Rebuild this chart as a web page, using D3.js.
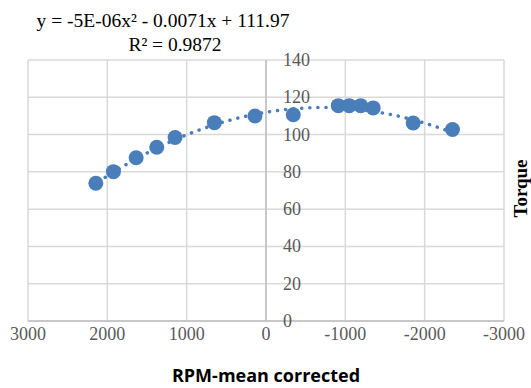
<!DOCTYPE html>
<html>
<head>
<meta charset="utf-8">
<script src="https://cdn.jsdelivr.net/npm/d3@7"></script>
<style>
  body { margin: 0; background: #fff; }
  svg { display: block; }
</style>
</head>
<body>
<div id="chart"></div>
<script>
let width = 531,
    height = 388,
    margin = ({ top: 60, right: 27, bottom: 67, left: 28 });

// data
const rpmCorrected = [2145, 1923, 1637, 1377, 1146, 651, 139, -344, -911, -1049, -1193, -1351, -1855, -2351];
const torque = [73.9, 80.1, 87.6, 93.2, 98.4, 106.4, 110.0, 110.6, 115.5, 115.5, 115.5, 114.3, 106.2, 102.7];
const xTicks = [3000, 2000, 1000, 0, -1000, -2000, -3000];
const yTicks = [0, 20, 40, 60, 80, 100, 120, 140];
const trendCoef = [-5e-6, -0.0071, 111.97]; // a, b, c
const eqLines = ["y = -5E-06x\u00b2 - 0.0071x + 111.97", "R\u00b2 = 0.9872"];

const points = rpmCorrected.map((d, i) => ({ x: d, y: torque[i] }));

const svg = d3.select("#chart")
    .append("svg")
    .attr("width", width)
    .attr("height", height);

let x = d3.scaleLinear()
    .domain([3000, -3000]) // reversed axis
    .range([margin.left, width - margin.right]);

let y = d3.scaleLinear()
    .domain([0, 140])
    .range([height - margin.bottom, margin.top]);

// vertical gridlines
svg.append("g")
    .selectAll("line")
    .data(xTicks)
    .join("line")
    .attr("x1", d => x(d)).attr("x2", d => x(d))
    .attr("y1", y(0)).attr("y2", y(140))
    .attr("stroke", "#d9d9d9")
    .attr("stroke-width", 1.5);

// horizontal gridlines
svg.append("g")
    .selectAll("line")
    .data(yTicks)
    .join("line")
    .attr("x1", x(3000)).attr("x2", x(-3000))
    .attr("y1", d => y(d)).attr("y2", d => y(d))
    .attr("stroke", "#d9d9d9")
    .attr("stroke-width", 1.5);

// axis lines
svg.append("line")
    .attr("x1", x(3000)).attr("x2", x(-3000))
    .attr("y1", y(0)).attr("y2", y(0))
    .attr("stroke", "#bfbfbf").attr("stroke-width", 1.5);

svg.append("line")
    .attr("x1", x(0)).attr("x2", x(0))
    .attr("y1", y(0)).attr("y2", y(140))
    .attr("stroke", "#bfbfbf").attr("stroke-width", 1.5);

// x tick labels
svg.append("g")
    .selectAll("text")
    .data(xTicks)
    .join("text")
    .attr("x", d => x(d))
    .attr("y", height - margin.bottom + 19)
    .attr("text-anchor", "middle")
    .attr("font-family", "Liberation Serif")
    .attr("font-size", 18)
    .attr("fill", "#595959")
    .text(d => d);

// y tick labels, sitting right of the axis
svg.append("g")
    .selectAll("text")
    .data(yTicks)
    .join("text")
    .attr("x", x(0) + 17)
    .attr("y", d => y(d))
    .attr("dominant-baseline", "central")
    .attr("font-family", "Liberation Serif")
    .attr("font-size", 18)
    .attr("fill", "#595959")
    .text(d => d);

// polynomial trendline, dotted
let trend = d3.range(d3.min(rpmCorrected), d3.max(rpmCorrected) + 1, 20)
    .map(v => ({ x: v, y: trendCoef[0] * v * v + trendCoef[1] * v + trendCoef[2] }));

svg.append("path")
    .datum(trend)
    .attr("fill", "none")
    .attr("stroke", "#4a7ebb")
    .attr("stroke-width", 3.5)
    .attr("stroke-linecap", "round")
    .attr("stroke-dasharray", "0.1 8")
    .attr("d", d3.line().x(d => x(d.x)).y(d => y(d.y)));

// markers
svg.append("g")
    .selectAll("circle")
    .data(points)
    .join("circle")
    .attr("cx", d => x(d.x))
    .attr("cy", d => y(d.y))
    .attr("r", 7.5)
    .attr("fill", "#4a7ebb");

// trendline equation
svg.append("g")
    .selectAll("text")
    .data(eqLines)
    .join("text")
    .attr("x", (d, i) => i === 0 ? 163 : 175)
    .attr("y", (d, i) => 27 + i * 24)
    .attr("text-anchor", "middle")
    .attr("font-family", "Liberation Serif")
    .attr("font-size", 19.5)
    .attr("fill", "#000")
    .text(d => d);

// axis titles
svg.append("text")
    .attr("x", (x(3000) + x(-3000)) / 2)
    .attr("y", 382)
    .attr("text-anchor", "middle")
    .attr("font-family", "Open Sans")
    .attr("font-weight", "bold")
    .attr("font-size", 18)
    .attr("fill", "#000")
    .text("RPM-mean corrected");

svg.append("text")
    .attr("transform", `translate(527,${(y(0) + y(140)) / 2 - 2}) rotate(-90)`)
    .attr("text-anchor", "middle")
    .attr("font-family", "Liberation Serif")
    .attr("font-weight", "bold")
    .attr("font-size", 19)
    .attr("fill", "#000")
    .text("Torque");
</script>
</body>
</html>
